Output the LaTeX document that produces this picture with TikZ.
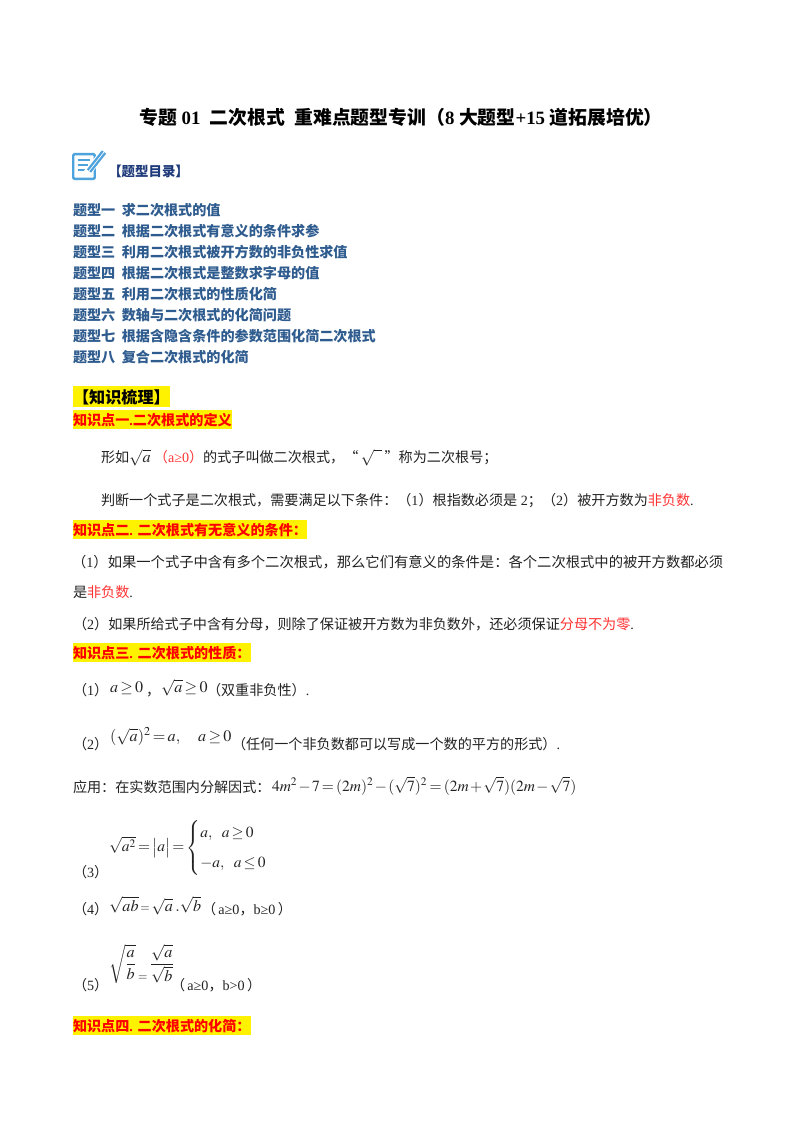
\documentclass[tikz,border=0pt]{standalone}
\usepackage{amsmath}
\usepackage{mathptmx}
\usepackage{fontspec}
\setmainfont{Liberation Serif}
\newfontfamily\cjk{Noto Sans CJK SC}
\usetikzlibrary{positioning}

\definecolor{tocblue}{HTML}{2F5C8F}
\definecolor{navy}{HTML}{1F3A7A}
\definecolor{iconblue}{HTML}{4FA3DC}
\definecolor{hotred}{HTML}{FF3333}
\definecolor{textgray}{HTML}{222222}

\thickmuskip=2.5mu
\medmuskip=1.5mu

\tikzset{
  textline/.style={anchor=base west, inner sep=0pt, outer sep=0pt, text=textgray, font=\fontsize{10.5pt}{12pt}\cjk},
  mathline/.style={anchor=base west, inner sep=0pt, outer sep=0pt, text=textgray, font=\fontsize{12pt}{14pt}\selectfont},
  tocline/.style={anchor=west, inner sep=0pt, outer sep=0pt, text=tocblue, text height=11pt, text depth=3pt, font=\fontsize{10.5pt}{12pt}\cjk\bfseries},
  hilite/.style={anchor=base west, inner xsep=0pt, inner ysep=2pt, outer sep=0pt, fill=yellow, text=red, font=\fontsize{10.5pt}{12pt}\cjk\bfseries},
}
\newcommand{\hot}[1]{\textcolor{hotred}{#1}}
\newcommand{\lat}[1]{{\rmfamily #1}}
\newcommand{\mth}[1]{{\fontsize{12pt}{14pt}\selectfont$#1$}}

\begin{document}
\begin{tikzpicture}[x=0.744pt, y=-0.744pt, node distance=1.62pt]
  \useasboundingbox (0,0) rectangle (800,1132);
  \fill [white] (0,0) rectangle (800,1132);

  \node (title) [anchor=base west, inner sep=0pt, font=\fontsize{14pt}{16pt}\cjk\bfseries] at (139,124)
     {专题\lat{ 01\ \ }二次根式\lat{\ \ }重难点题型专训（\lat{8 }大题型\lat{+15 }道拓展培优）};

  % icon
  \node (icon) [draw=iconblue, line width=1.8pt, rounded corners=1pt, minimum width=16pt, minimum height=18.5pt, inner sep=0pt] at (84,166.5) {};
  \draw [iconblue, line width=1.1pt] (77.5,160) -- (90,160) (77.5,165) -- (88,165) (77.5,170) -- (85,170);
  \draw [white, line width=5.5pt] (87,173) -- (104,152);
  \draw [iconblue, line width=4pt] (89,171) -- (104,152);
  \draw [white, line width=.5pt] (89,171) -- (104,152);

  \node (toc) [anchor=base west, inner sep=0pt, text=navy, font=\fontsize{10pt}{12pt}\cjk\bfseries] at (108,176) {【题型目录】};

  \node (t1) [tocline] at (73,210) {题型一\ \ 求二次根式的值};
  \node (t2) [tocline, below = of t1.south west, anchor=north west] {题型二\ \ 根据二次根式有意义的条件求参};
  \node (t3) [tocline, below = of t2.south west, anchor=north west] {题型三\ \ 利用二次根式被开方数的非负性求值};
  \node (t4) [tocline, below = of t3.south west, anchor=north west] {题型四\ \ 根据二次根式是整数求字母的值};
  \node (t5) [tocline, below = of t4.south west, anchor=north west] {题型五\ \ 利用二次根式的性质化简};
  \node (t6) [tocline, below = of t5.south west, anchor=north west] {题型六\ \ 数轴与二次根式的化简问题};
  \node (t7) [tocline, below = of t6.south west, anchor=north west] {题型七\ \ 根据含隐含条件的参数范围化简二次根式};
  \node (t8) [tocline, below = of t7.south west, anchor=north west] {题型八\ \ 复合二次根式的化简};

  \node (h0) [hilite, text=black, font=\fontsize{12pt}{14pt}\cjk\bfseries] at (73,403) {【知识梳理】};
  \node (h1) [hilite] at (73,425) {知识点一\lat{.}二次根式的定义};

  \node (p1a) [textline] at (101,462) {形如\mth{\sqrt{a}}\ \hot{（\lat{a≥0}）}的式子叫做二次根式，“\,\mth{\sqrt{\phantom{a}}}\,”称为二次根号；};
  \node (p1b) [textline] at (101,505) {判断一个式子是二次根式，需要满足以下条件：（\lat{1}）根指数必须是\lat{ 2}；（\lat{2}）被开方数为\hot{非负数}\lat{.}};

  \node (h2) [hilite] at (73,535) {知识点二\lat{. }二次根式有无意义的条件：};
  \node (p2a) [textline, font=\fontsize{10.65pt}{12pt}\cjk] at (72,567) {（\lat{1}）如果一个式子中含有多个二次根式，那么它们有意义的条件是：各个二次根式中的被开方数都必须};
  \node (p2b) [textline] at (73,597) {是\hot{非负数}\lat{.}};
  \node (p2c) [textline] at (73,629) {（\lat{2}）如果所给式子中含有分母，则除了保证被开方数为非负数外，还必须保证\hot{分母不为零}\lat{.}};

  \node (h3) [hilite] at (73,658) {知识点三\lat{. }二次根式的性质：};
  \node (q1) [textline] at (73,695) {（\lat{1}）};
  \node (q1a) [mathline] at (110,692) {$a\ge 0$};
  \node (q1b) [textline] at (146,695) {，};
  \node (q1c) [mathline] at (161,692) {$\sqrt{a}\ge 0$};
  \node (q1d) [textline] at (207,695) {（双重非负性）\lat{.}};

  \node (q2) [textline] at (73,749) {（\lat{2}）};
  \node (q2a) [mathline] at (110,741) {$(\sqrt{a})^2=a,\quad a\ge 0$};
  \node (q2b) [textline] at (232,749) {（任何一个非负数都可以写成一个数的平方的形式）\lat{.}};

  \node (q3) [textline] at (73,792) {应用：在实数范围内分解因式：};
  \node (q3a) [mathline, font=\fontsize{11.55pt}{14pt}\selectfont] at (272,791) {$4m^2-7=(2m)^2-(\sqrt{7})^2=(2m+\sqrt{7})(2m-\sqrt{7})$};

  \node (n3) [textline] at (73,877) {（\lat{3}）};
  \node (f3) [mathline, anchor=west, font=\fontsize{11.5pt}{14pt}\selectfont] at (109,848)
     {$\sqrt{a^2}=\bigl|a\bigr|=\begin{cases}a,\enspace a\ge 0\\[5pt] -a,\enspace a\le 0\end{cases}$};

  \node (q4) [textline] at (73,914) {（\lat{4}）};
  \node (q4a) [mathline] at (109,911) {$\sqrt{ab}\,{\scriptstyle =}\,\sqrt{a}\;.\sqrt{b}$};
  \node (q4b) [textline] at (202,914) {（\lat{\,a≥0}，\lat{b≥0\,}）};

  \node (n5) [textline] at (73,990) {（\lat{5}）};
  \node (f5) [mathline] at (109,968)
     {$\sqrt{\dfrac{a}{b}}\,\raisebox{-9pt}{$\scriptstyle=$}\,\dfrac{\sqrt{a}}{\sqrt{b}}$};
  \node (c5) [textline] at (171,990) {（\lat{\,a≥0}，\lat{b>0\,}）};

  \node (h4) [hilite] at (73,1031) {知识点四\lat{. }二次根式的化简：};
\end{tikzpicture}
\end{document}
